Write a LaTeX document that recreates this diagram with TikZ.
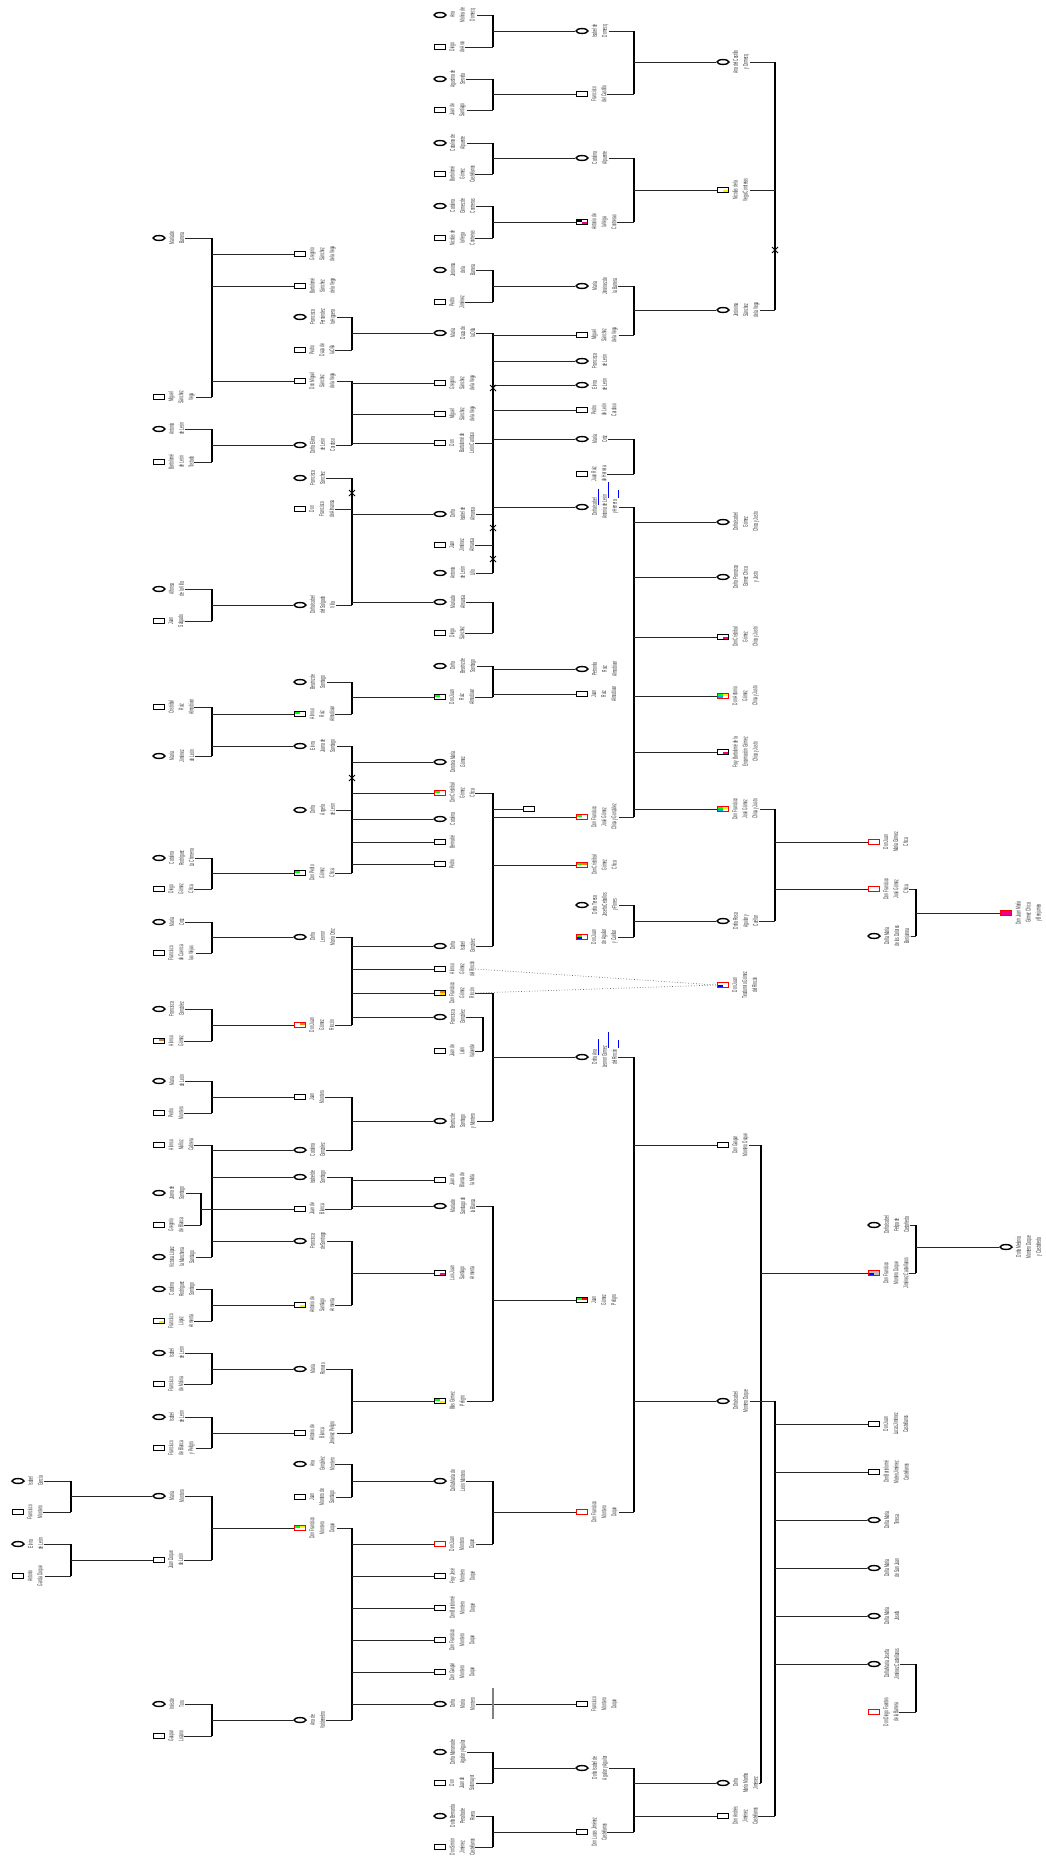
\documentclass[tikz,border=0pt]{standalone}
\usepackage{fontspec}
\newfontfamily\narrowsf[FakeStretch=0.47]{Liberation Sans}
\usetikzlibrary{shapes.geometric, shapes.misc, calc}

% person = symbol + rotated name
\newcommand{\tperson}[5]{%
  \node[#2] (#1) at (#3,#4) {};
  \node[lbl] (#1t) at ([xshift=2.5pt]#1.east) {#5};}
% couple joined on a bar
\newcommand{\tfamily}[3]{%
  \draw[ln] (#2t.south) -- (#2t.south -| #1);
  \draw[ln] (#3t.south) -- (#3t.south -| #1);
  \draw[bar] (#2t.south -| #1) -- (#3t.south -| #1);}
\newcommand{\tspouse}[2]{\draw[ln] (#2t.south) -- (#2t.south -| #1);}
\newcommand{\tkids}[2]{\foreach \k in {#2}{\draw[ln] (\k.west -| #1) -- (\k.west);}}

\begin{document}
\begin{tikzpicture}[
  x=1pt, y=-1pt,
  sq/.style={rectangle, draw, line width=1.4pt, minimum width=11pt, minimum height=4.6pt, inner sep=0pt, fill=white},
  ci/.style={ellipse, draw, line width=1.4pt, minimum width=12pt, minimum height=4.8pt, inner sep=0pt, fill=white},
  rs/.style={sq, draw=red},
  q/.style n args={4}{path picture={
    \fill[#1] (path picture bounding box.north west) rectangle (path picture bounding box.center);
    \fill[#2] (path picture bounding box.north east) rectangle (path picture bounding box.center);
    \fill[#3] (path picture bounding box.south west) rectangle (path picture bounding box.center);
    \fill[#4] (path picture bounding box.south east) rectangle (path picture bounding box.center);}},
  lbl/.style={rotate=90, anchor=north, align=center, inner sep=0.5pt, text=black!80,
    font=\fontsize{7}{10}\selectfont\narrowsf},
  ln/.style={black!85, line width=1pt},
  bar/.style={black, line width=1.9pt},
  xm/.style={cross out, draw, line width=1pt, minimum size=5pt, inner sep=0pt},
  dot/.style={black!60, dotted, line width=0.7pt}
]
\useasboundingbox (0,0) rectangle (1046,1863);

\coordinate (b0) at (71,0);
\coordinate (b1) at (212,0);  \coordinate (b1s) at (201,0);
\coordinate (b2) at (352,0);
\coordinate (b3) at (493,0);  \coordinate (b3s) at (483,0);
\coordinate (b4) at (634,0);
\coordinate (b5) at (775,0);  \coordinate (b5s) at (761,0);
\coordinate (b6) at (916,0);

% generation 0
\tperson{igarcia}{ci}{18}{1481}{Isabel\\García}
\tperson{fmontero}{sq}{18}{1512}{Francisco\\Montero}
\tperson{eleon}{ci}{18}{1544}{Elvira\\de León}
\tperson{agarcia}{sq}{18}{1576}{Antonio\\García Duque}

% generation 1
\tperson{mbarrera}{ci}{159}{238}{María de\\Barrera}
\tperson{msvega}{sq}{159}{397}{Miguel\\Sánchez\\Vega}
\tperson{aleon}{ci}{159}{429}{Antonia\\de León}
\tperson{bleon}{sq}{159}{462}{Bartolomé\\de León\\Tostado}
\tperson{avilla}{ci}{159}{589}{Alfonsa\\de la Villa}
\tperson{jsalgado}{sq}{159}{621}{Juan\\Salgado}
\tperson{cruiz}{sq}{159}{707}{Cristóbal\\Ruiz\\Almodóvar}
\tperson{mjimenez}{ci}{159}{756}{María\\Jiménez\\de León}
\tperson{crodriguez}{ci}{159}{858}{Catalina\\Rodríguez\\La Chimena}
\tperson{dchica}{sq}{159}{889}{Diego\\Gómez\\Chica}
\tperson{mortiz}{ci}{159}{922}{María\\Ortiz}
\tperson{fcuenca}{sq}{159}{953}{Francisco\\de Cuenca\\las Viejas}
\tperson{fgonzalez}{ci}{159}{1009}{Francisca\\González}
\tperson{agomez}{sq, q={white}{brown}{white}{white}}{159}{1041}{Alonso\\Gómez}
\tperson{mleon}{ci}{159}{1081}{María\\de León}
\tperson{pmontero}{sq}{159}{1113}{Pedro\\Montero}
\tperson{amunoz}{sq}{159}{1145}{Alonso\\Muñoz\\Cabrera}
\tperson{jsantiago}{ci}{159}{1193}{Juana de\\Santiago}
\tperson{gblanca}{sq}{159}{1225}{Gregorio\\de Blanca}
\tperson{vlopez}{ci}{159}{1257}{Victoria López\\la Manchena\\Santiago}
\tperson{crodsant}{ci}{159}{1289}{Catalina\\Rodríguez\\Santiago}
\tperson{flopez}{sq, q={white}{white}{white}{yellow}}{159}{1321}{Francisco\\López\\Armenta}
\tperson{ileona}{ci}{159}{1353}{Isabel\\de León}
\tperson{fmolina}{sq}{159}{1384}{Francisco\\de Molina}
\tperson{ileonb}{ci}{159}{1417}{Isabel\\de León}
\tperson{fblanca}{sq}{159}{1448}{Francisco\\de Blanca\\y Peligro}
\tperson{mmontero}{ci}{159}{1496}{María\\Montero}
\tperson{jduque}{sq}{159}{1560}{Juan Duque\\de León}
\tperson{itoro}{ci}{159}{1704}{Inés de\\Toro}
\tperson{glozano}{sq}{159}{1736}{Gaspar\\Lozano}

% generation 2
\tperson{gsvega}{sq}{300}{254}{Gregorio\\Sánchez\\de la Vega}
\tperson{bsvega}{sq}{300}{286}{Bartolomé\\Sánchez\\de la Vega}
\tperson{ffernandez}{ci}{300}{317}{Francisca\\Fernández\\la Higuera}
\tperson{pdaza}{sq}{300}{350}{Pedro\\Daza de\\la Olla}
\tperson{dmsvega}{sq}{300}{381}{Don Miguel\\Sánchez\\de la Vega}
\tperson{delvira}{ci}{300}{445}{Doña Elvira\\de León\\Cardoso}
\tperson{fsanchez}{ci}{300}{478}{Francisca\\Sánchez}
\tperson{falmansa}{sq}{300}{509}{Don\\Francisco\\de Almansa}
\tperson{isalgado}{ci}{300}{605}{Doña Isabel\\del Salgado\\Villa}
\tperson{bsantiago}{ci}{300}{682}{Beatriz de\\Santiago}
\tperson{aruiz}{sq, q={green}{white}{white}{white}}{300}{714}{Alonso\\Ruiz\\Almodóvar}
\tperson{ejuana}{ci}{300}{746}{Elvira\\Juana de\\Santiago}
\tperson{aleonb}{ci}{300}{810}{Doña\\Ángela\\de León}
\tperson{pchica}{sq, q={green}{white}{white}{white}}{300}{873}{Don Pedro\\Gómez\\Chica}
\tperson{lortiz}{ci}{300}{937}{Doña\\Leonor\\María Ortiz}
\tperson{jrincon}{rs, q={white}{orange}{white}{white}}{300}{1025}{Don Juan\\Gómez\\Rincón}
\tperson{jmontero}{sq}{300}{1097}{Juan\\Montero}
\tperson{cgonzalez}{ci}{300}{1150}{Catalina\\González}
\tperson{isantiago}{ci}{300}{1177}{Isabel de\\Santiago}
\tperson{jblanca}{sq}{300}{1209}{Juan de\\Blanca}
\tperson{fsantiago}{ci}{300}{1241}{Francisca\\de Santiago}
\tperson{asantiago}{sq, q={white}{white}{white}{yellow}}{300}{1305}{Antonio de\\Santiago\\Armenta}
\tperson{mromero}{ci}{300}{1369}{María\\Romero}
\tperson{ablanca}{sq}{300}{1433}{Antonio de\\Blanca\\Jiménez Peligro}
\tperson{agmontero}{ci}{300}{1464}{Ana\\González\\Montero}
\tperson{jmsantiago}{sq}{300}{1497}{Juan\\Montero de\\Santiago}
\tperson{fmduque}{rs, q={green}{yellow}{white}{white}}{300}{1528}{Don Francisco\\Montero\\Duque}
\tperson{avaldenebro}{ci}{300}{1720}{Ana de\\Valdenebro}

% generation 3
\tperson{amolina}{ci}{440}{15}{Ana\\Molina de\\Domecq}
\tperson{darce}{sq}{440}{47}{Diego\\de Arce}
\tperson{aservida}{ci}{440}{79}{Agustina de\\Servida}
\tperson{jdsantiago}{sq}{440}{110}{Juan de\\Santiago}
\tperson{calpuente}{ci}{440}{143}{Catalina de\\Alpuente}
\tperson{bcastellanos}{sq}{440}{174}{Bartolomé\\Gómez\\Castellanos}
\tperson{ccontreras}{ci}{440}{206}{Catalina\\Gómez de\\Contreras}
\tperson{nvega}{sq}{440}{238}{Nicolás de\\la Vega\\Contreras}
\tperson{jbarrera}{ci}{440}{270}{Jerónima\\de la\\Barrera}
\tperson{pjimenez}{sq}{440}{302}{Pedro\\Jiménez}
\tperson{mdaza}{ci}{440}{333}{María\\Daza de\\la Olla}
\tperson{gsvegac}{sq}{440}{383}{Gregorio\\Sánchez\\de la Vega}
\tperson{msvegac}{sq}{440}{414}{Miguel\\Sánchez\\de la Vega}
\tperson{bcardoso}{sq}{440}{443}{Don\\Bartolomé de\\León Cardoso}
\tperson{ialmansa}{ci}{440}{514}{Doña\\Isabel de\\Almansa}
\tperson{jalmansa}{sq}{440}{545}{Juan\\Jiménez\\Almansa}
\tperson{alillo}{ci}{440}{573}{Antonia\\de León\\Lillo}
\tperson{malmansa}{ci}{440}{602}{María de\\Almansa}
\tperson{dsanchez}{sq}{440}{633}{Diego\\Sánchez}
\tperson{dbsantiago}{ci}{440}{666}{Doña\\Beatriz de\\Santiago}
\tperson{jruiz}{sq, q={green}{white}{white}{white}}{440}{697}{Don Juan\\Ruiz\\Almodóvar}
\tperson{dgomez}{ci}{440}{762}{Dorotea María\\Gómez}
\tperson{cchica}{rs, q={green}{white}{white}{white}}{440}{793}{Don Cristóbal\\Gómez\\Chica}
\tperson{catalina}{ci}{440}{819}{Catalina}
\tperson{bernabe}{sq}{440}{842}{Bernabé}
\tperson{pedro}{sq}{440}{864}{Pedro}
\tperson{igonzalez}{ci}{440}{946}{Doña\\Isabel\\González}
\tperson{agrincon}{sq}{440}{969}{Alonso\\Gómez\\del Rincón}
\tperson{fgrincon}{sq, q={white}{orange}{white}{yellow}}{440}{993}{Don Francisco\\Gómez\\Rincón}
\tperson{fgonzalezc}{ci}{440}{1017}{Francisca\\González}
\tperson{jvalverde}{sq}{440}{1051}{Juan de\\León\\Valverde}
\tperson{bmontero}{ci}{440}{1121}{Beatriz de\\Santiago\\y Montero}
\tperson{jmota}{sq}{440}{1180}{Juan de\\Blanca de\\la Mota}
\tperson{mblanca}{ci}{440}{1206}{María de\\Santiago de\\la Blanca}
\tperson{larmenta}{sq, q={white}{white}{white}{magenta}}{440}{1273}{Luis Juan\\Santiago\\Armenta}
\tperson{bpeligro}{sq, q={green}{white}{white}{yellow}}{440}{1401}{Blas Gómez\\Peligro}
\tperson{mlmontero}{ci}{440}{1481}{Doña María de\\León Montero}
\tperson{jmduque}{rs}{440}{1544}{Don Juan\\Montero\\Duque}
\tperson{jfray}{sq}{440}{1576}{Fray José\\Montero\\Duque}
\tperson{bmduque}{sq}{440}{1608}{Don Bartolomé\\Montero\\Duque}
\tperson{fmduquec}{sq}{440}{1640}{Don Francisco\\Montero\\Duque}
\tperson{gmduquec}{sq}{440}{1672}{Don Gaspar\\Montero\\Duque}
\tperson{mmonteroc}{ci}{440}{1704}{Doña\\María\\Montero}
\tperson{maguilar}{ci}{440}{1752}{Doña Mariana de\\Aguilar y Aguilar}
\tperson{jsotomayor}{sq}{440}{1783}{Don\\Juan de\\Sotomayor}
\tperson{bperalta}{ci}{440}{1816}{Doña Bernarda\\Peralta de\\Rivera}
\tperson{sjimenez}{sq}{440}{1847}{Don Simón\\Jiménez\\Castellanos}
\node[sq] (hijo) at (529,809) {};

% generation 4
\tperson{idomecq}{ci}{582}{31}{Isabel de\\Domecq}
\tperson{fcastillo}{sq}{582}{94}{Francisco\\del Castillo}
\tperson{calpuented}{ci}{582}{158}{Catalina\\Alpuente}
\tperson{avega}{sq, q={black}{white}{white}{magenta}}{582}{222}{Antonio de\\la Vega\\Contreras}
\tperson{mjbarrera}{ci}{582}{286}{María\\Jiménez de\\la Barrera}
\tperson{msvegad}{sq}{582}{335}{Miguel\\Sánchez\\de la Vega}
\tperson{fleon}{ci}{582}{361}{Francisca\\de León}
\tperson{eleond}{ci}{582}{385}{Elvira\\de León}
\tperson{pcardoso}{sq}{582}{410}{Pedro\\de León\\Cardoso}
\tperson{mortizd}{ci}{582}{439}{María\\Ortiz}
\tperson{jherrera}{sq}{582}{474}{Juan Ruiz\\de Herrera}
\tperson{iaherrera}{ci}{582}{507}{Doña Isabel\\Antonia de León\\y Herrera}
\tperson{pruiz}{ci}{582}{669}{Petronila\\Ruiz\\Almodóvar}
\tperson{jruizd}{sq}{582}{694}{Juan\\Ruiz\\Almodóvar}
\tperson{fjgonzalez}{rs, q={green}{white}{white}{white}}{582}{817}{Don Francisco\\José Gómez\\Chica y González}
\tperson{cchicad}{rs, q={green}{orange}{white}{white}}{582}{865}{Don Cristóbal\\Gómez\\Chica}
\tperson{tceballos}{ci}{582}{905}{Doña Teresa\\Josefa Ceballos\\y Flores}
\tperson{jcuellar}{rs, q={green}{white}{blue}{white}}{582}{937}{Don Juan\\de Aguilar\\y Cuéllar}
\tperson{alrincon}{ci}{582}{1057}{Doña Ana\\Leonor Gómez\\del Rincón}
\tperson{jpeligro}{sq, q={green}{red}{white}{white}}{582}{1300}{Juan\\Gómez\\Peligro}
\tperson{fmduqued}{rs}{582}{1512}{Don Francisco\\Montero\\Duque}
\tperson{fmduquee}{sq}{582}{1704}{Francisco\\Montero\\Duque}
\tperson{iaguilar}{ci}{582}{1768}{Doña Isabel de\\Aguilar y Aguilar}
\tperson{ljimenez}{sq}{582}{1832}{Don Lucas Jiménez\\Castellanos}

% generation 5
\tperson{acastillo}{ci}{723}{62}{Ana del Castillo\\y Domecq}
\tperson{nvegae}{sq, q={white}{white}{white}{yellow}}{723}{190}{Nicolás de la\\Vega Contreras}
\tperson{jsvega}{ci}{723}{310}{Jerónima\\Sánchez\\de la Vega}
\tperson{igchica}{ci}{723}{522}{Doña Isabel\\Gómez\\Chica y Justo}
\tperson{fgchica}{ci}{723}{577}{Doña Francisca\\Gómez Chica\\y Justo}
\tperson{cgchica}{sq, q={white}{white}{white}{magenta}}{723}{637}{Don Cristóbal\\Gómez\\Chica y Justo}
\tperson{agchica}{rs, q={green}{yellow}{cyan}{white}}{723}{696}{Don Antonio\\Gómez\\Chica y Justo}
\tperson{bgchica}{sq, q={white}{white}{white}{magenta}}{723}{752}{Fray Bartolomé de la\\Encarnación Gómez\\Chica y Justo}
\tperson{fjchica}{rs, q={green}{yellow}{cyan}{white}}{723}{809}{Don Francisco\\José Gómez\\Chica y Justo}
\tperson{raguilar}{ci}{723}{921}{Doña Rosa\\Aguilar y\\Cuéllar}
\tperson{jteodomiro}{rs, q={white}{white}{blue}{white}}{723}{985}{Don Juan\\Teodomiro Gómez\\del Rincón}
\tperson{gmduquee}{sq}{723}{1145}{Don Gaspar\\Montero Duque}
\tperson{imduque}{ci}{723}{1401}{Doña Isabel\\Montero Duque}
\tperson{mmjimenez}{ci}{723}{1783}{Doña\\María Martha\\Jiménez}
\tperson{ajimenez}{sq}{723}{1816}{Don Andrés\\Jiménez\\Castellanos}

% generation 6
\tperson{jmchica}{rs}{874}{842}{Don Juan\\María Gómez\\Chica}
\tperson{fjchicaf}{rs}{874}{889}{Don Francisco\\José Gómez\\Chica}
\tperson{mbenjumea}{ci}{874}{936}{Doña María\\de los Dolores\\Benjumea}
\tperson{icastaneda}{ci}{874}{1225}{Doña Isabel\\Felipa de\\Castañeda}
\tperson{fmcastellanos}{rs, fill=black!25, q={black!25}{black!25}{blue}{black!25}}{874}{1273}{Don Francisco\\Montero Duque\\Jiménez Castellanos}
\tperson{jlcastellanos}{sq}{874}{1424}{Don Juan\\Lucas Jiménez\\Castellanos}
\tperson{bmcastellanos}{sq}{874}{1472}{Don Bartolomé\\Mateo Jiménez\\Castellanos}
\tperson{mteresa}{ci}{874}{1520}{Doña María\\Teresa}
\tperson{msanjuan}{ci}{874}{1568}{Doña María\\de San Juan}
\tperson{mjosefa}{ci}{874}{1616}{Doña María\\Josefa}
\tperson{mjcastellanos}{ci}{874}{1664}{Doña María Josefa\\Jiménez Castellanos}
\tperson{dfuentes}{rs}{874}{1712}{Don Diego Fuentes\\de la Barrera}

% generation 7
\tperson{jmbenjumea}{rs, fill=magenta}{1006}{913}{Don Juan María\\Gómez Chica\\y Benjumea}
\tperson{mmcastaneda}{ci}{1006}{1247}{Doña Melania\\Montero Duque\\y Castañeda}

% families
\tfamily{b0}{igarcia}{fmontero} \tkids{b0}{mmontero}
\tfamily{b0}{eleon}{agarcia} \tkids{b0}{jduque}

\tfamily{b1}{mbarrera}{msvega} \tkids{b1}{gsvega,bsvega,dmsvega}
\tfamily{b1}{aleon}{bleon} \tkids{b1}{delvira}
\tfamily{b1}{avilla}{jsalgado} \tkids{b1}{isalgado}
\tfamily{b1}{cruiz}{mjimenez} \tkids{b1}{aruiz,ejuana}
\tfamily{b1}{crodriguez}{dchica} \tkids{b1}{pchica}
\tfamily{b1}{mortiz}{fcuenca} \tkids{b1}{lortiz}
\tfamily{b1}{fgonzalez}{agomez} \tkids{b1}{jrincon}
\tfamily{b1}{mleon}{pmontero} \tkids{b1}{jmontero}
\tfamily{b1}{amunoz}{vlopez} \tkids{b1}{cgonzalez,isantiago,fsantiago}
\tfamily{b1s}{jsantiago}{gblanca} \tkids{b1s}{jblanca}
\tfamily{b1}{crodsant}{flopez} \tkids{b1}{asantiago}
\tfamily{b1}{ileona}{fmolina} \tkids{b1}{mromero}
\tfamily{b1}{ileonb}{fblanca} \tkids{b1}{ablanca}
\tfamily{b1}{mmontero}{jduque} \tkids{b1}{fmduque}
\tfamily{b1}{itoro}{glozano} \tkids{b1}{avaldenebro}

\tfamily{b2}{ffernandez}{pdaza} \tkids{b2}{mdaza}
\tfamily{b2}{dmsvega}{delvira} \tkids{b2}{gsvegac,msvegac,bcardoso}
\tfamily{b2}{fsanchez}{isalgado} \tspouse{b2}{falmansa} \tkids{b2}{ialmansa,malmansa}
\tfamily{b2}{bsantiago}{aruiz} \tkids{b2}{jruiz}
\tfamily{b2}{ejuana}{pchica} \tspouse{b2}{aleonb} \tkids{b2}{dgomez,cchica,catalina,bernabe,pedro}
\tfamily{b2}{lortiz}{jrincon} \tkids{b2}{igonzalez,agrincon,fgrincon,fgonzalezc}
\tfamily{b2}{jmontero}{cgonzalez} \tkids{b2}{bmontero}
\tfamily{b2}{isantiago}{jblanca} \tkids{b2}{jmota,mblanca}
\tfamily{b2}{fsantiago}{asantiago} \tkids{b2}{larmenta}
\tfamily{b2}{mromero}{ablanca} \tkids{b2}{bpeligro}
\tfamily{b2}{agmontero}{jmsantiago} \tkids{b2}{mlmontero}
\tfamily{b2}{fmduque}{avaldenebro} \tkids{b2}{jmduque,jfray,bmduque,fmduquec,gmduquec,mmonteroc}

\tfamily{b3}{amolina}{darce} \tkids{b3}{idomecq}
\tfamily{b3}{aservida}{jdsantiago} \tkids{b3}{fcastillo}
\tfamily{b3}{calpuente}{bcastellanos} \tkids{b3}{calpuented}
\tfamily{b3}{ccontreras}{nvega} \tkids{b3}{avega}
\tfamily{b3}{jbarrera}{pjimenez} \tkids{b3}{mjbarrera}
\tfamily{b3}{mdaza}{alillo} \tspouse{b3}{bcardoso} \tspouse{b3}{ialmansa} \tspouse{b3}{jalmansa}
\tkids{b3}{msvegad,fleon,eleond,pcardoso,mortizd,iaherrera}
\tfamily{b3}{malmansa}{dsanchez}
\tfamily{b3}{dbsantiago}{jruiz} \tkids{b3}{pruiz,jruizd}
\tfamily{b3}{cchica}{igonzalez} \tkids{b3}{hijo,fjgonzalez,cchicad}
\tfamily{b3}{fgrincon}{bmontero} \tkids{b3}{alrincon}
\tfamily{b3s}{fgonzalezc}{jvalverde}
\tfamily{b3}{mblanca}{bpeligro} \tkids{b3}{jpeligro}
\tfamily{b3}{mlmontero}{jmduque} \tkids{b3}{fmduqued}
\tfamily{b3}{maguilar}{jsotomayor} \tkids{b3}{iaguilar}
\tfamily{b3}{bperalta}{sjimenez} \tkids{b3}{ljimenez}
\draw[ln] (mmonteroct.south) -- (fmduquee.west);
\coordinate (adopt) at (mmonteroct.south -| b3);
\draw[gray, line width=1.2pt] ([yshift=16pt]adopt) -- ([yshift=-15pt]adopt);

\tfamily{b4}{idomecq}{fcastillo} \tkids{b4}{acastillo}
\tfamily{b4}{calpuented}{avega} \tkids{b4}{nvegae}
\tfamily{b4}{mjbarrera}{msvegad} \tkids{b4}{jsvega}
\tfamily{b4}{mortizd}{jherrera}
\tfamily{b4}{iaherrera}{fjgonzalez} \tkids{b4}{igchica,fgchica,cgchica,agchica,bgchica,fjchica}
\tfamily{b4}{tceballos}{jcuellar} \tkids{b4}{raguilar}
\tfamily{b4}{alrincon}{fmduqued} \tkids{b4}{gmduquee,imduque}
\tfamily{b4}{iaguilar}{ljimenez} \tkids{b4}{mmjimenez,ajimenez}

\tfamily{b5}{acastillo}{jsvega} \tspouse{b5}{nvegae}
\tfamily{b5}{fjchica}{raguilar} \tkids{b5}{jmchica,fjchicaf}
\tfamily{b5s}{gmduquee}{mmjimenez} \tkids{b5s}{fmcastellanos}
\tfamily{b5}{imduque}{ajimenez} \tkids{b5}{jlcastellanos,bmcastellanos,mteresa,msanjuan,mjosefa,mjcastellanos}

\tfamily{b6}{fjchicaf}{mbenjumea} \tkids{b6}{jmbenjumea}
\tfamily{b6}{icastaneda}{fmcastellanos} \tkids{b6}{mmcastaneda}
\tfamily{b6}{mjcastellanos}{dfuentes}

% separations
\node[xm] (sep1) at (352,493) {};
\node[xm] (sep2) at (352,778) {};
\node[xm] (sep3) at (493,388) {};
\node[xm] (sep4) at (493,528) {};
\node[xm] (sep5) at (493,559) {};
\node[xm] (sep6) at (775,250) {};

% doubtful fathers
\draw[dot] (agrincont.south) -- (jteodomiro.west);
\draw[dot] (fgrincont.south) -- (jteodomiro.west);

% blue marks
\foreach \p in {iaherrera, alrincon}
  \foreach \dx/\ya/\yb in {16/-18/-2, 26/-25/-9, 36/-17/-9}
    \draw[blue, line width=1pt] ($(\p)+(\dx,\ya)$) -- ($(\p)+(\dx,\yb)$);
\end{tikzpicture}
\end{document}
